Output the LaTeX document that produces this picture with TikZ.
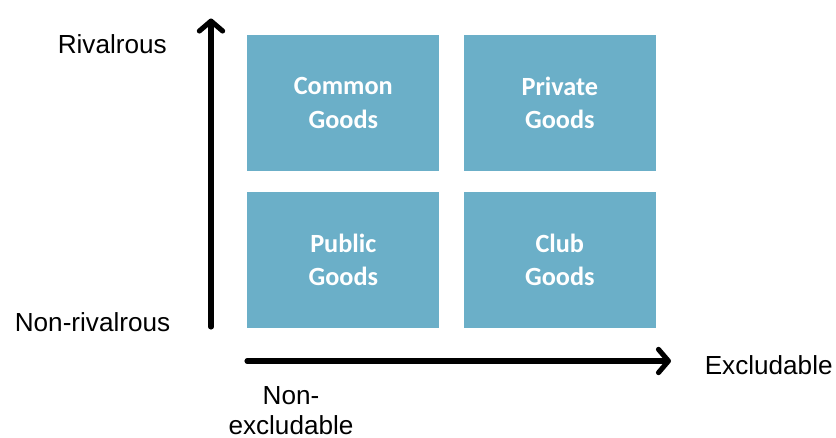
\documentclass[tikz,border=0pt]{standalone}
\usepackage{fontspec}
\setmainfont{Liberation Sans}
\newfontfamily\goodsfont{Carlito}
\usetikzlibrary{arrows.meta}
\definecolor{goodsblue}{RGB}{107,175,200}
\tikzstyle{goodsblock} = [fill=goodsblue, draw=none, minimum width=144pt, minimum height=102.2pt, align=center, text=white, font=\goodsfont\bfseries\fontsize{19.7}{25.3}\selectfont, inner sep=0pt]
\tikzstyle{axislabel} = [font=\fontsize{19.6}{22.5}\selectfont, inner sep=0pt, align=center]
\tikzstyle{axisarrow} = [line width=3.8pt, line cap=round, -{Straight Barb[length=7.5pt, width=17.5pt, line cap=round, line join=round]}]

\begin{document}
\begin{tikzpicture}[x=0.75pt, y=-0.75pt]
      \useasboundingbox (0, 0) rectangle (836, 437);
      \node[goodsblock] (common) at (343.3, 103) {Common\\Goods};
      \node[goodsblock] (private) at (559.8, 103) {Private\\Goods};
      \node[goodsblock] (public) at (343.3, 259.8) {Public\\Goods};
      \node[goodsblock] (club) at (559.8, 259.8) {Club\\Goods};
      \coordinate (ybase) at (211, 327);
      \coordinate (ytip) at (211, 18.5);
      \coordinate (xbase) at (247, 361);
      \coordinate (xtip) at (671, 361);
      \draw[axisarrow] (ybase) -- (ytip);
      \draw[axisarrow] (xbase) -- (xtip);
      \node[axislabel, anchor=east] (rival) at (167, 44) {Rivalrous};
      \node[axislabel, anchor=east] (nonrival) at (170.5, 322) {Non-rivalrous};
      \node[axislabel, anchor=west] (excl) at (704.5, 365) {Excludable};
      \node[axislabel] (nonexcl) at (291, 410.5) {Non-\\excludable};
    \end{tikzpicture}
\end{document}
